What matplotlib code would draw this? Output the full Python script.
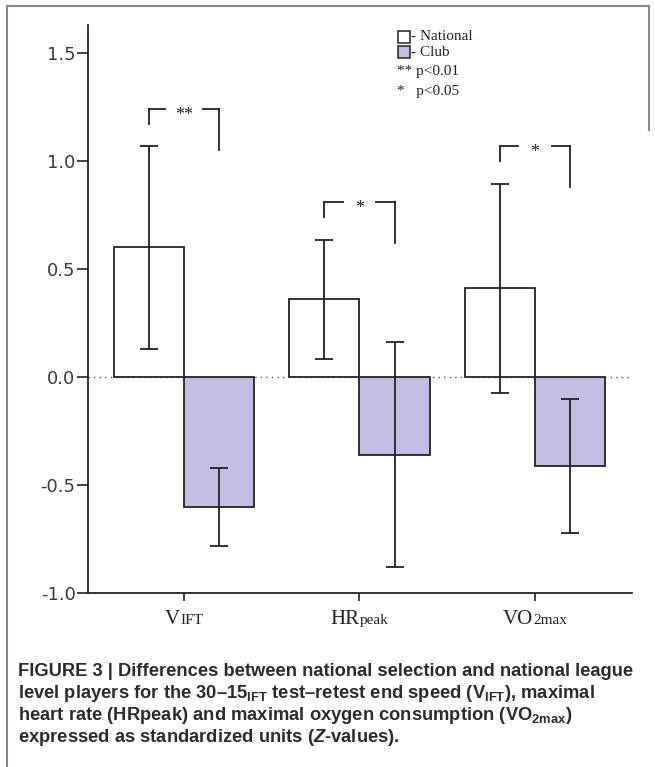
import numpy as np
import matplotlib.pyplot as plt
from matplotlib.patches import Rectangle
from matplotlib.lines import Line2D
from matplotlib.offsetbox import TextArea, HPacker, AnnotationBbox

plt.rcParams['mathtext.fontset'] = 'custom'
plt.rcParams['mathtext.rm'] = 'Liberation Sans:bold'
plt.rcParams['mathtext.bf'] = 'Liberation Sans:bold'
plt.rcParams['mathtext.it'] = 'Liberation Sans:bold:italic'

# %% data
label_main = ['V', 'HR', 'VO']
label_small = ['IFT', 'peak', '2max']
national_mean = [0.60, 0.36, 0.41]
national_err = [0.47, 0.275, 0.485]
club_mean = [-0.60, -0.36, -0.41]
club_err = [0.18, 0.52, 0.31]
sig_marks = ['**', '*', '*']
bracket_top = [1.24, 0.81, 1.07]
yticks = [-1.0, -0.5, 0.0, 0.5, 1.0, 1.5]

club_color = '#c3bde4'
edge = '#222222'
W, H = 655, 767

fig = plt.figure(figsize=(W / 100, H / 100), dpi=100)
ax = fig.add_axes([88 / W, 1 - 593.3 / H, (631.7 - 88) / W, (593.3 - 24.6) / H])

x = np.arange(len(label_main))
w = 0.4
ax.axhline(0, color='#555555', lw=1, ls=(0, (1, 3)), zorder=1)
ax.bar(x - w / 2, national_mean, w, color='white', edgecolor=edge, lw=1.3, zorder=2)
ax.bar(x + w / 2, club_mean, w, color=club_color, edgecolor=edge, lw=1.3, zorder=2)
ax.errorbar(x - w / 2, national_mean, yerr=national_err, fmt='none', ecolor=edge,
            elinewidth=1.3, capsize=6.5, capthick=1.3, zorder=3)
ax.errorbar(x + w / 2, club_mean, yerr=club_err, fmt='none', ecolor=edge,
            elinewidth=1.3, capsize=6.5, capthick=1.3, zorder=3)

# significance brackets
for i in range(len(x)):
    top = bracket_top[i]
    xl, xr = x[i] - w / 2, x[i] + w / 2
    gap = 0.11 if len(sig_marks[i]) > 1 else 0.095
    kw = dict(color=edge, lw=1.3)
    ax.plot([xl, xl], [top - 0.07, top], **kw)
    ax.plot([xl, x[i] - gap], [top, top], **kw)
    ax.plot([x[i] + gap, xr], [top, top], **kw)
    ax.plot([xr, xr], [top, top - 0.19], **kw)
    ax.annotate(sig_marks[i], (x[i], top), xytext=(0, -5), textcoords='offset points',
                ha='center', va='center', fontsize=13, family='Liberation Serif', color=edge)

ax.set_xlim(-0.547, 2.551)
ax.set_ylim(-1.0, 1.63)
ax.set_yticks(yticks)
ax.set_yticklabels(['%.1f' % v for v in yticks], fontsize=13, color='#3a3a3a')
ax.set_xticks(x)
ax.set_xticklabels(['' for _ in x])
ax.tick_params(axis='y', length=8, width=1.2, pad=1, color=edge)
ax.tick_params(axis='x', length=6, width=1.2, color=edge)
for s in ['top', 'right']:
    ax.spines[s].set_visible(False)
for s in ['left', 'bottom']:
    ax.spines[s].set_linewidth(1.3)
    ax.spines[s].set_color(edge)

# category labels: large letters + small suffix on one baseline
for i in range(len(x)):
    big = TextArea(label_main[i], textprops=dict(fontsize=15, family='Liberation Serif', color=edge))
    small = TextArea(label_small[i], textprops=dict(fontsize=11, family='Liberation Serif', color=edge))
    box = HPacker(children=[big, small], align='baseline', pad=0, sep=0)
    ab = AnnotationBbox(box, (x[i], 0), xycoords=('data', 'axes fraction'),
                        xybox=(0, -12), boxcoords='offset points', box_alignment=(0.5, 1),
                        frameon=False)
    ax.add_artist(ab)


# legend in the top right
def fy(py):
    return 1 - py / H


fig.patches.append(Rectangle((398 / W, fy(43)), 12 / W, 12 / H, transform=fig.transFigure,
                             facecolor='white', edgecolor=edge, lw=1.1))
fig.patches.append(Rectangle((398 / W, fy(58)), 12 / W, 12 / H, transform=fig.transFigure,
                             facecolor=club_color, edgecolor=edge, lw=1.1))
serif = dict(family='Liberation Serif', fontsize=11, color=edge, va='center')
fig.text(411 / W, fy(36), '- National', **serif)
fig.text(411 / W, fy(52), '- Club', **serif)
fig.text(397 / W, fy(72), '** p<0.01', **serif)
fig.text(397 / W, fy(91), '*   p<0.05', **serif)

# frame of the figure panel
frame = dict(color='#888888', lw=1.5, transform=fig.transFigure)
fig.add_artist(Line2D([7 / W, 7 / W], [0, fy(6)], **frame))
fig.add_artist(Line2D([7 / W, 649 / W], [fy(6), fy(6)], **frame))
fig.add_artist(Line2D([649 / W, 649 / W], [fy(6), fy(130)], **frame))

# caption
cap = [
    'FIGURE 3 | Differences between national selection and national league',
    r'level players for the 30–15$_{\mathbf{IFT}}$ test–retest end speed (V$_{\mathbf{IFT}}$), maximal',
    r'heart rate (HRpeak) and maximal oxygen consumption (VO$_{\mathbf{2max}}$)',
    r'expressed as standardized units ($\mathit{Z}$-values).',
]
cap_y = [671, 694, 716, 738]
for t, yy in zip(cap, cap_y):
    fig.text(18 / W, fy(yy), t, family='Liberation Sans', weight='bold', fontsize=13.2,
             color='#2b2b2b', va='center')

fig.savefig('out.png', dpi=100)
